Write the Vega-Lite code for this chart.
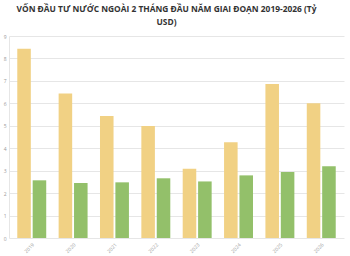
{
  "$schema": "https://vega.github.io/schema/vega-lite/v6.json",
  "width": 350,
  "height": 256,
  "autosize": {"type": "fit", "contains": "padding"},
  "padding": {"left": 3, "right": 6, "top": 4, "bottom": 2},
  "background": "white",
  "title": {
    "text": ["VỐN ĐẦU TƯ NƯỚC NGOÀI 2 THÁNG ĐẦU NĂM GIAI ĐOẠN 2019-2026 (Tỷ", "USD)"],
    "font": "Open Sans",
    "fontSize": 8.4,
    "fontWeight": "bold",
    "color": "#333333",
    "anchor": "middle",
    "dx": -10,
    "lineHeight": 13,
    "offset": 8
  },
  "data": {
    "values": [
      {"year": "2019", "type": "Đăng ký", "value": 8.43},
      {"year": "2019", "type": "Giải ngân", "value": 2.57},
      {"year": "2020", "type": "Đăng ký", "value": 6.44},
      {"year": "2020", "type": "Giải ngân", "value": 2.45},
      {"year": "2021", "type": "Đăng ký", "value": 5.44},
      {"year": "2021", "type": "Giải ngân", "value": 2.48},
      {"year": "2022", "type": "Đăng ký", "value": 4.99},
      {"year": "2022", "type": "Giải ngân", "value": 2.66},
      {"year": "2023", "type": "Đăng ký", "value": 3.08},
      {"year": "2023", "type": "Giải ngân", "value": 2.52},
      {"year": "2024", "type": "Đăng ký", "value": 4.27},
      {"year": "2024", "type": "Giải ngân", "value": 2.79},
      {"year": "2025", "type": "Đăng ký", "value": 6.86},
      {"year": "2025", "type": "Giải ngân", "value": 2.94},
      {"year": "2026", "type": "Đăng ký", "value": 6.0},
      {"year": "2026", "type": "Giải ngân", "value": 3.2}
    ]
  },
  "mark": {"type": "bar"},
  "encoding": {
    "x": {
      "field": "year",
      "type": "nominal",
      "scale": {"paddingInner": 0.3, "paddingOuter": 0.2},
      "axis": {
        "title": null,
        "labelAngle": -45,
        "labelFontSize": 5,
        "labelColor": "#999999",
        "labelFont": "Open Sans",
        "domain": false,
        "ticks": false,
        "labelPadding": 4
      }
    },
    "xOffset": {"field": "type", "type": "nominal", "scale": {"domain": ["Đăng ký", "Giải ngân"], "paddingInner": 0.12}},
    "y": {
      "field": "value",
      "type": "quantitative",
      "scale": {"domain": [0, 9], "nice": false},
      "axis": {
        "title": null,
        "values": [0, 1, 2, 3, 4, 5, 6, 7, 8, 9],
        "labelFontSize": 5,
        "labelColor": "#999999",
        "labelFont": "Open Sans",
        "gridColor": "#e6e6e6",
        "domain": true,
        "domainColor": "#e6e6e6",
        "ticks": false,
        "labelPadding": 3
      }
    },
    "color": {
      "field": "type",
      "type": "nominal",
      "scale": {"domain": ["Đăng ký", "Giải ngân"], "range": ["#f1d184", "#93c06a"]},
      "legend": null
    }
  },
  "config": {"view": {"stroke": null}}
}
